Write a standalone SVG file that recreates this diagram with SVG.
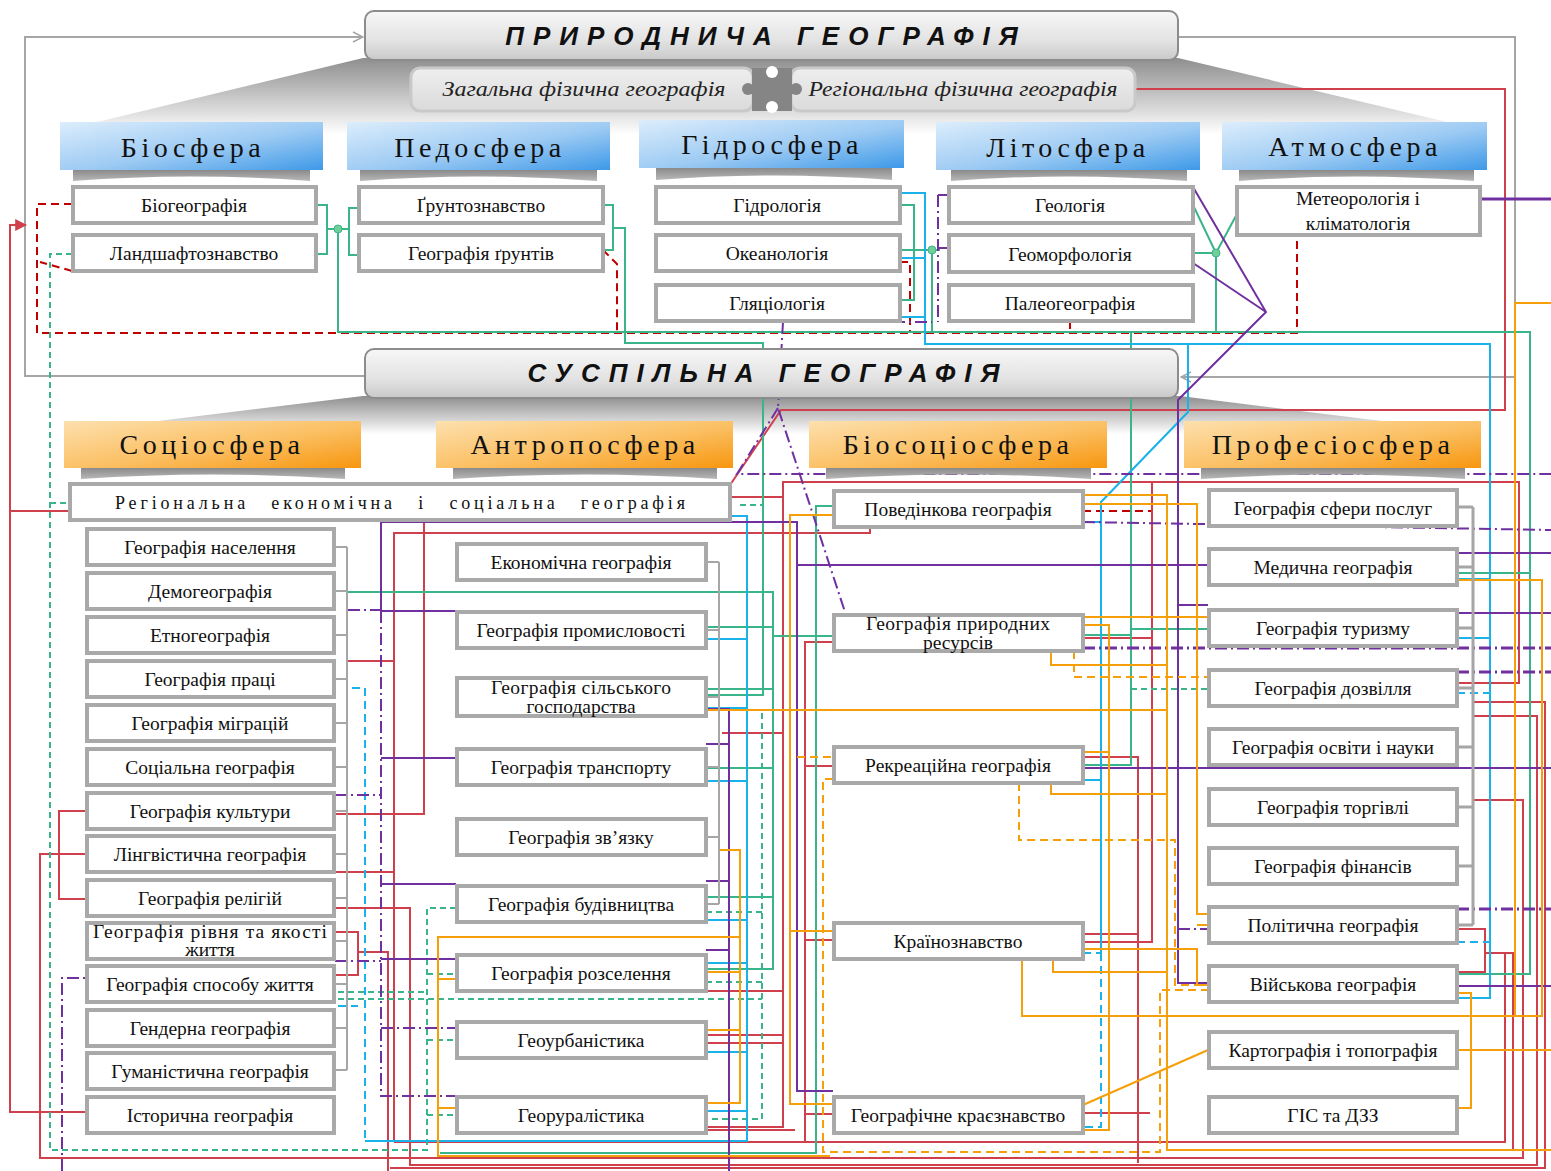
<svg xmlns="http://www.w3.org/2000/svg" width="1551" height="1171" viewBox="0 0 1551 1171">
<defs>
<linearGradient id="hdr" x1="0" y1="0" x2="0" y2="1"><stop offset="0" stop-color="#f7f7f7"/><stop offset="0.6" stop-color="#e3e3e3"/><stop offset="1" stop-color="#c9c9c9"/></linearGradient>
<linearGradient id="shd" x1="0" y1="0" x2="0" y2="1"><stop offset="0" stop-color="#8e8e8e"/><stop offset="0.7" stop-color="#dcdcdc"/><stop offset="1" stop-color="#ffffff"/></linearGradient>
<linearGradient id="pill" x1="0" y1="0" x2="0" y2="1"><stop offset="0" stop-color="#efefef"/><stop offset="1" stop-color="#dadada"/></linearGradient>
<linearGradient id="blue" x1="0" y1="0" x2="1" y2="1"><stop offset="0" stop-color="#dcedfc"/><stop offset="0.55" stop-color="#9ccaf3"/><stop offset="1" stop-color="#3d99e8"/></linearGradient>
<linearGradient id="orng" x1="0" y1="0" x2="1" y2="1"><stop offset="0" stop-color="#fde0ae"/><stop offset="0.55" stop-color="#fbbf62"/><stop offset="1" stop-color="#f7960e"/></linearGradient>
<linearGradient id="rib" x1="0" y1="0" x2="0" y2="1"><stop offset="0" stop-color="#8a8a8a"/><stop offset="1" stop-color="#b8b8b8"/></linearGradient>
<marker id="chev" viewBox="0 0 12 12" refX="11" refY="6" markerWidth="12" markerHeight="12" markerUnits="userSpaceOnUse" orient="auto"><path d="M1,1 L11,6 L1,11" fill="none" stroke="#a6a6a6" stroke-width="1.5"/></marker>
<marker id="rarr" viewBox="0 0 10 10" refX="9" refY="5" markerWidth="12" markerHeight="12" markerUnits="userSpaceOnUse" orient="auto"><path d="M0,0 L10,5 L0,10 Z" fill="#d0404c"/></marker>
</defs>
<style>
.node rect{fill:#fff;stroke:#a9a9a9;stroke-width:4}
.node text{font-family:"Liberation Serif",serif;font-size:19.5px;fill:#111;text-anchor:middle}
.big{font-family:"Liberation Sans",sans-serif;font-weight:bold;font-style:italic;font-size:26px;letter-spacing:9px;fill:#111;text-anchor:middle}
.sph{font-family:"Liberation Serif",serif;font-size:28px;letter-spacing:4.5px;fill:#111;text-anchor:middle}
.pt{font-family:"Liberation Serif",serif;font-style:italic;font-size:22px;fill:#222;text-anchor:middle}
#conn path{fill:none;stroke-width:2}
#conn .r{stroke:#d0404c}
#conn .rd{stroke:#c00000;stroke-dasharray:8 5}
#conn .g{stroke:#3ab58a}
#conn .gd{stroke:#3ab58a;stroke-dasharray:6 4}
#conn .b{stroke:#1ab2e8}
#conn .bd{stroke:#1ab2e8;stroke-dasharray:8 5}
#conn .p{stroke:#7030a0}
#conn .pd{stroke:#7030a0;stroke-dasharray:12 4 2 4}
#conn .o{stroke:#f5a00a}
#conn .od{stroke:#f5a00a;stroke-dasharray:8 5}
#conn .gr{stroke:#a6a6a6}
#conn .k{stroke-width:3}
</style>
<rect width="1551" height="1171" fill="#fff"/>

<!-- shadows -->
<polygon points="363,58 1178,58 1447,122 1447,134 97,134 97,122" fill="url(#shd)"/>
<polygon points="363,396 1180,396 1390,422 1390,434 150,434 150,422" fill="url(#shd)"/>

<!-- connectors -->
<g id="conn">
<path class="gr" d="M365,376 H25 V37 H363" marker-end="url(#chev)"/>
<path class="gr" d="M1178,37 H1515 V377 H1181" marker-end="url(#chev)"/>
<path class="r" d="M86,1112 H10 V225 H26" marker-end="url(#rarr)"/>
<path class="r" d="M10,511 H68"/>
<path class="r" d="M1135,89 H1505 V410 H781 L730,485"/>
<path class="r" d="M730,497 H783"/>
<path class="r" d="M1457,683 H1519 V482 H783 V1127 H706"/>
<path class="r" d="M706,991 H783 M722,733 H783 M706,1035 H783 M706,1043 H783 M706,1130 H795"/>
<path class="r" d="M394,1142 V533 H870 V527"/>
<path class="r" d="M394,1142 H1505 V953 H1485"/>
<path class="r" d="M1457,929 H1485 V972 H1457 M1485,953 H1513 V1150"/>
<path class="r" d="M424,521 V814 H335"/>
<path class="r" d="M86,854 H40 V1158 H1523 V800 H1473"/>
<path class="r" d="M86,811 H59 V899 H86"/>
<path class="r" d="M335,908 H410 V1165 H1537 V716 H1473"/>
<path class="r" d="M335,932 H358 V975 H335 M358,952 H388 V1171"/>
<path class="r" d="M390,1168 H1545 V702 H1473"/>
<path class="r" d="M348,661 H394 M335,872 H394"/>
<path class="r" d="M833,642 H805 V1142 M805,766 H833 M805,940 H833 M805,1114 H833"/>
<path class="r" d="M1083,1113 H1150 M1083,757 H1138 V1163"/>
<path class="rd" d="M1083,511 H1152"/>
<path class="r" d="M1152,482 V942 H1083 M1083,934 H1138 M1083,638 H1152"/>
<path class="rd" d="M72,204 H37 V333 H1297 V237"/>
<path class="rd" d="M72,271 L40,262"/>
<path class="rd" d="M603,250 L617,264 V333"/>
<path class="rd" d="M900,262 H910 V333"/>
<path class="rd" d="M1070,321 V333"/>
<path class="g" d="M316,205 H327 V254 H316 M358,208 H349 V255 H358 M327,229 H349"/>
<path class="g" d="M338,229 V332 H1530 V974 H1457 M1457,573 H1530"/>
<path class="g" d="M603,205 H613 V250 H603"/>
<path class="g" d="M613,228 H625 V343 H763 V695 H706"/>
<path class="g" d="M900,205 H914 V300 H900 M900,250 H940 M932,250 V332"/>
<path class="g" d="M1193,205 L1216,253 M1193,253 H1216 M1238,212 L1216,253 M1216,253 V332"/>
<path class="g" d="M348,592 H773 V969 H706 M706,627 H773 M706,689 H773 M706,768 H773 M706,897 H773 M773,636 H833"/>
<path class="g" d="M833,506 H816 V1153 H440"/>
<path class="g" d="M1131,332 V765 H1083 M1131,629 H1208 M1083,635 H1131"/>
<path class="gd" d="M1131,689 H1208"/>
<path class="gd" d="M72,254 H50 V1150 H427 V908 H456 M427,974 H456 M427,1040 H456 M427,1115 H456 M50,503 H68"/>
<path class="gd" d="M762,713 V1119 H706 M706,912 H762 M706,982 H762 M338,999 H762 M338,992 H427 M740,505 H764"/>
<path class="b" d="M900,193 H925 V344 H1490 V998 H1457 M900,258 H925 M900,317 H925 M1457,579 H1490 M1457,638 H1490"/>
<path class="bd" d="M1457,693 H1490 M1457,942 H1490"/>
<path class="b" d="M1188,344 V412 L1101,502 V953 M1083,522 H1101 M1083,780 H1101"/>
<path class="bd" d="M1101,953 V1127 H1083 M1083,953 H1101"/>
<path class="bd" d="M352,688 H365 V1141 M338,1006 H358"/>
<path class="b" d="M365,1141 H747 V516 H731 M706,639 H747 M706,708 H747 M706,781 H747 M706,920 H747 M706,963 H747 M706,1052 H747 M706,1111 H747"/>
<path class="p k" d="M1480,199 H1551"/>
<path class="p" d="M1193,187 L1266,312 L1178,400 V983 H1208 M1193,263 L1266,312 M1178,605 H1208"/>
<path class="pd" d="M1178,929 H1208"/>
<path class="pd" d="M783,322 H932 M938,195 V322 M938,195 H948 M938,248 H948 M783,322 L778,408 L845,612 M778,408 L737,474 H1551"/>
<path class="pd" d="M1083,522 L1551,530"/>
<path class="p" d="M381,611 V522 H797 V1091 H833 M797,565 H1208"/>
<path class="pd" d="M381,611 V1096 H456 M381,1028 H456 M348,610 H381 M335,795 H381 M335,961 H381"/>
<path class="p" d="M381,611 H456 M381,758 H456 M381,884 H456 M381,959 H456"/>
<path class="p" d="M706,709 H729 V1171 M706,744 H729 M706,881 H729 M706,950 H729"/>
<path class="p" d="M1457,553 H1551 M1457,613 H1551 M1083,768 H1551 M1457,986 H1551"/>
<path class="pd k" d="M1457,672 H1551 M1083,648 H1551 M1457,909 H1551"/>
<path class="pd" d="M62,1171 V978 H86"/>
<path class="o" d="M1083,495 H1167 V1150 H1551"/>
<path class="o" d="M1083,504 H1197 V914 H1208"/>
<path class="o" d="M1083,625 H1109 V1130 H1083 M1083,752 H1109"/>
<path class="o" d="M1083,617 H1208"/>
<path class="o" d="M1051,651 V665 H1167"/>
<path class="od" d="M1074,651 V677 H1208"/>
<path class="o" d="M706,710 H1167"/>
<path class="o" d="M1051,783 V794 H1167"/>
<path class="od" d="M1019,783 V840 H1175 V985 H1208"/>
<path class="o" d="M1022,959 V1016 H1542 V580 H1457"/>
<path class="o" d="M1208,1050 L1083,1105"/>
<path class="o" d="M1457,1050 H1551"/>
<path class="o" d="M1457,1108 H1471 V993 H1457"/>
<path class="o" d="M1551,303 H1515 V1016"/>
<path class="o" d="M719,850 H740 V1103 H706 M706,972 H740 M706,1030 H740"/>
<path class="o" d="M740,937 H438 V1156 H830 M438,979 H456 M438,1108 H456"/>
<path class="o" d="M833,515 H790 V1104 H833 M790,931 H833"/>
<path class="od" d="M833,779 H823 V1152 H1160 V990 H1208 M797,757 H833"/>
<path class="o" d="M1083,949 H1197 V985 H1208 M1197,925 H1208"/>
<path class="o" d="M1053,959 V972 H1167"/>
<path class="gr" d="M347,547 V1070 M334,547 H347 M334,591 H347 M334,635 H347 M334,679 H347 M334,723 H347 M334,767 H347 M334,811 H347 M334,854 H347 M334,898 H347 M334,941 H347 M334,984 H347 M334,1028 H347 M334,1070 H347"/>
<path class="gr" d="M719,562 V904 M706,562 H719 M706,630 H719 M706,697 H719 M706,767 H719 M706,837 H719 M706,904 H719"/>
<path class="gr k" d="M1473,507 V925 M1457,507 H1473 M1457,567 H1473 M1457,628 H1473 M1457,688 H1473 M1457,747 H1473 M1457,807 H1473 M1457,866 H1473 M1457,925 H1473"/>
</g>
<g id="dots" fill="#6fcf97" stroke="#3ab58a" stroke-width="1">
<circle cx="338" cy="229" r="4"/><circle cx="932" cy="250" r="4"/><circle cx="1216" cy="253" r="4"/>
</g>

<g id="n-pryrodnycha">
<rect x="365" y="11" width="813" height="49" rx="9" fill="url(#hdr)" stroke="#8c8c8c" stroke-width="2"/>
<text class="big" x="766" y="45">ПРИРОДНИЧА ГЕОГРАФІЯ</text>
</g>
<g id="n-zagalna">
<rect x="411" y="68" width="342" height="43" rx="9" fill="url(#pill)" stroke="#c9c9c9" stroke-width="3"/>
<text class="pt" x="584" y="96" textLength="283" lengthAdjust="spacingAndGlyphs">Загальна фізична географія</text>
</g>
<g id="n-regionalna-fiz">
<rect x="791" y="68" width="344" height="43" rx="9" fill="url(#pill)" stroke="#c9c9c9" stroke-width="3"/>
<text class="pt" x="963" y="96" textLength="309" lengthAdjust="spacingAndGlyphs">Регіональна фізична географія</text>
</g>
<g id="puzzle" fill="#858585">
<rect x="752" y="68" width="40" height="43"/>
<circle cx="772" cy="72" r="6" fill="#fff"/><circle cx="772" cy="107" r="6" fill="#fff"/>
<circle cx="748" cy="89" r="6"/><circle cx="796" cy="89" r="6"/>
</g>

<g id="h-biosfera"><rect x="60" y="122" width="263" height="48" fill="url(#blue)"/><path d="M73,170 H310 V181 Q191,172 73,181 Z" fill="url(#rib)"/><text class="sph" x="193" y="157">Біосфера</text></g>
<g id="h-pedosfera"><rect x="347" y="122" width="263" height="48" fill="url(#blue)"/><path d="M360,170 H597 V181 Q478,172 360,181 Z" fill="url(#rib)"/><text class="sph" x="480" y="157">Педосфера</text></g>
<g id="h-gidrosfera"><rect x="639" y="120" width="265" height="48" fill="url(#blue)"/><path d="M656,168 H892 V180 Q774,171 656,180 Z" fill="url(#rib)"/><text class="sph" x="772" y="154">Гідросфера</text></g>
<g id="h-litosfera"><rect x="936" y="122" width="264" height="48" fill="url(#blue)"/><path d="M951,170 H1187 V181 Q1069,172 951,181 Z" fill="url(#rib)"/><text class="sph" x="1068" y="157">Літосфера</text></g>
<g id="h-atmosfera"><rect x="1222" y="122" width="265" height="48" fill="url(#blue)"/><path d="M1239,170 H1474 V181 Q1356,172 1239,181 Z" fill="url(#rib)"/><text class="sph" x="1355" y="156">Атмосфера</text></g>

<g class="node" id="n-biogeo"><rect x="73" y="187" width="243" height="36"/><text x="194" y="212">Біогеографія</text></g>
<g class="node" id="n-landshaft"><rect x="73" y="235" width="243" height="36"/><text x="194" y="260">Ландшафтознавство</text></g>
<g class="node" id="n-gruntozn"><rect x="359" y="187" width="244" height="36"/><text x="481" y="212">Ґрунтознавство</text></g>
<g class="node" id="n-geogrunt"><rect x="359" y="235" width="244" height="36"/><text x="481" y="260">Географія ґрунтів</text></g>
<g class="node" id="n-gidrol"><rect x="656" y="187" width="244" height="36"/><text x="777" y="212">Гідрологія</text></g>
<g class="node" id="n-okean"><rect x="656" y="235" width="244" height="36"/><text x="777" y="260">Океанологія</text></g>
<g class="node" id="n-glyac"><rect x="656" y="285" width="244" height="36"/><text x="777" y="310">Гляціологія</text></g>
<g class="node" id="n-geol"><rect x="949" y="187" width="244" height="36"/><text x="1070" y="212">Геологія</text></g>
<g class="node" id="n-geomorf"><rect x="949" y="235" width="244" height="37"/><text x="1070" y="261">Геоморфологія</text></g>
<g class="node" id="n-paleo"><rect x="949" y="285" width="244" height="36"/><text x="1070" y="310">Палеогеографія</text></g>
<g class="node" id="n-meteo"><rect x="1237" y="187" width="243" height="48"/><text x="1358" y="205">Метеорологія і</text><text x="1358" y="230">кліматологія</text></g>

<g id="n-suspilna">
<rect x="365" y="349" width="813" height="49" rx="9" fill="url(#hdr)" stroke="#8c8c8c" stroke-width="2"/>
<text class="big" x="768" y="382">СУСПІЛЬНА ГЕОГРАФІЯ</text>
</g>

<g id="h-sociosfera"><rect x="64" y="421" width="297" height="47" fill="url(#orng)"/><path d="M81,468 H345 V479 Q213,470 81,479 Z" fill="url(#rib)"/><text class="sph" x="212" y="454">Соціосфера</text></g>
<g id="h-antroposfera"><rect x="436" y="421" width="297" height="47" fill="url(#orng)"/><path d="M453,468 H717 V479 Q585,470 453,479 Z" fill="url(#rib)"/><text class="sph" x="585" y="454">Антропосфера</text></g>
<g id="h-biosociosfera"><rect x="809" y="421" width="298" height="47" fill="url(#orng)"/><path d="M826,468 H1091 V479 Q958,470 826,479 Z" fill="url(#rib)"/><text class="sph" x="958" y="454">Біосоціосфера</text></g>
<g id="h-profesiosfera"><rect x="1184" y="421" width="297" height="47" fill="url(#orng)"/><path d="M1201,468 H1465 V479 Q1333,470 1201,479 Z" fill="url(#rib)"/><text class="sph" x="1333" y="454">Професіосфера</text></g>

<g class="node" id="n-regek"><rect x="70" y="484" width="660" height="36"/><text x="400" y="509" style="font-size:18px;word-spacing:14px" textLength="570" lengthAdjust="spacing">Регіональна економічна і соціальна географія</text></g>

<g class="node" id="n-nasel"><rect x="87" y="529" width="247" height="36"/><text x="210" y="554">Географія населення</text></g>
<g class="node" id="n-demo"><rect x="87" y="573" width="247" height="36"/><text x="210" y="598">Демогеографія</text></g>
<g class="node" id="n-etno"><rect x="87" y="617" width="247" height="36"/><text x="210" y="642">Етногеографія</text></g>
<g class="node" id="n-praci"><rect x="87" y="661" width="247" height="36"/><text x="210" y="686">Географія праці</text></g>
<g class="node" id="n-migr"><rect x="87" y="705" width="247" height="36"/><text x="210" y="730">Географія  міграцій</text></g>
<g class="node" id="n-social"><rect x="87" y="749" width="247" height="36"/><text x="210" y="774">Соціальна  географія</text></g>
<g class="node" id="n-kult"><rect x="87" y="793" width="247" height="36"/><text x="210" y="818">Географія  культури</text></g>
<g class="node" id="n-lingv"><rect x="87" y="836" width="247" height="36"/><text x="210" y="861">Лінгвістична географія</text></g>
<g class="node" id="n-relig"><rect x="87" y="880" width="247" height="36"/><text x="210" y="905">Географія релігій</text></g>
<g class="node" id="n-rivnya"><rect x="87" y="923" width="247" height="36"/><text x="210" y="938" textLength="234" lengthAdjust="spacing">Географія рівня та якості</text><text x="210" y="956">життя</text></g>
<g class="node" id="n-sposob"><rect x="87" y="966" width="247" height="36"/><text x="210" y="991">Географія  способу життя</text></g>
<g class="node" id="n-gender"><rect x="87" y="1010" width="247" height="36"/><text x="210" y="1035">Гендерна  географія</text></g>
<g class="node" id="n-guman"><rect x="87" y="1053" width="247" height="36"/><text x="210" y="1078">Гуманістична  географія</text></g>
<g class="node" id="n-istor"><rect x="87" y="1097" width="247" height="36"/><text x="210" y="1122">Історична  географія</text></g>

<g class="node" id="n-ekon"><rect x="457" y="544" width="249" height="36"/><text x="581" y="569">Економічна географія</text></g>
<g class="node" id="n-promysl"><rect x="457" y="612" width="249" height="36"/><text x="581" y="637">Географія промисловості</text></g>
<g class="node" id="n-silsk"><rect x="457" y="678" width="249" height="38"/><text x="581" y="694" textLength="180" lengthAdjust="spacing">Географія сільського</text><text x="581" y="713">господарства</text></g>
<g class="node" id="n-transp"><rect x="457" y="749" width="249" height="36"/><text x="581" y="774">Географія транспорту</text></g>
<g class="node" id="n-zvyaz"><rect x="457" y="819" width="249" height="36"/><text x="581" y="844">Географія зв’язку</text></g>
<g class="node" id="n-budiv"><rect x="457" y="886" width="249" height="36"/><text x="581" y="911">Географія будівництва</text></g>
<g class="node" id="n-rozsel"><rect x="457" y="955" width="249" height="36"/><text x="581" y="980">Географія  розселення</text></g>
<g class="node" id="n-urban"><rect x="457" y="1022" width="249" height="36"/><text x="581" y="1047">Геоурбаністика</text></g>
<g class="node" id="n-rural"><rect x="457" y="1097" width="249" height="36"/><text x="581" y="1122">Георуралістика</text></g>

<g class="node" id="n-povedin"><rect x="834" y="491" width="249" height="36"/><text x="958" y="516">Поведінкова  географія</text></g>
<g class="node" id="n-pryrres"><rect x="834" y="615" width="249" height="36"/><text x="958" y="630" textLength="184" lengthAdjust="spacing">Географія природних</text><text x="958" y="649">ресурсів</text></g>
<g class="node" id="n-rekre"><rect x="834" y="747" width="249" height="36"/><text x="958" y="772">Рекреаційна географія</text></g>
<g class="node" id="n-krainozn"><rect x="834" y="923" width="249" height="36"/><text x="958" y="948">Країнознавство</text></g>
<g class="node" id="n-kraezn"><rect x="834" y="1097" width="249" height="36"/><text x="958" y="1122">Географічне краєзнавство</text></g>

<g class="node" id="n-poslug"><rect x="1209" y="490" width="248" height="36"/><text x="1333" y="515">Географія сфери послуг</text></g>
<g class="node" id="n-medych"><rect x="1209" y="549" width="248" height="36"/><text x="1333" y="574">Медична географія</text></g>
<g class="node" id="n-turyzm"><rect x="1209" y="610" width="248" height="36"/><text x="1333" y="635">Географія туризму</text></g>
<g class="node" id="n-dozvil"><rect x="1209" y="670" width="248" height="36"/><text x="1333" y="695">Географія дозвілля</text></g>
<g class="node" id="n-osvity"><rect x="1209" y="729" width="248" height="36"/><text x="1333" y="754">Географія освіти і науки</text></g>
<g class="node" id="n-torg"><rect x="1209" y="789" width="248" height="36"/><text x="1333" y="814">Географія торгівлі</text></g>
<g class="node" id="n-finans"><rect x="1209" y="848" width="248" height="36"/><text x="1333" y="873">Географія фінансів</text></g>
<g class="node" id="n-polit"><rect x="1209" y="907" width="248" height="36"/><text x="1333" y="932">Політична географія</text></g>
<g class="node" id="n-viysk"><rect x="1209" y="966" width="248" height="36"/><text x="1333" y="991">Військова  географія</text></g>
<g class="node" id="n-kartogr"><rect x="1209" y="1032" width="248" height="36"/><text x="1333" y="1057">Картографія і топографія</text></g>
<g class="node" id="n-gis"><rect x="1209" y="1097" width="248" height="36"/><text x="1333" y="1122">ГІС та ДЗЗ</text></g>
</svg>
